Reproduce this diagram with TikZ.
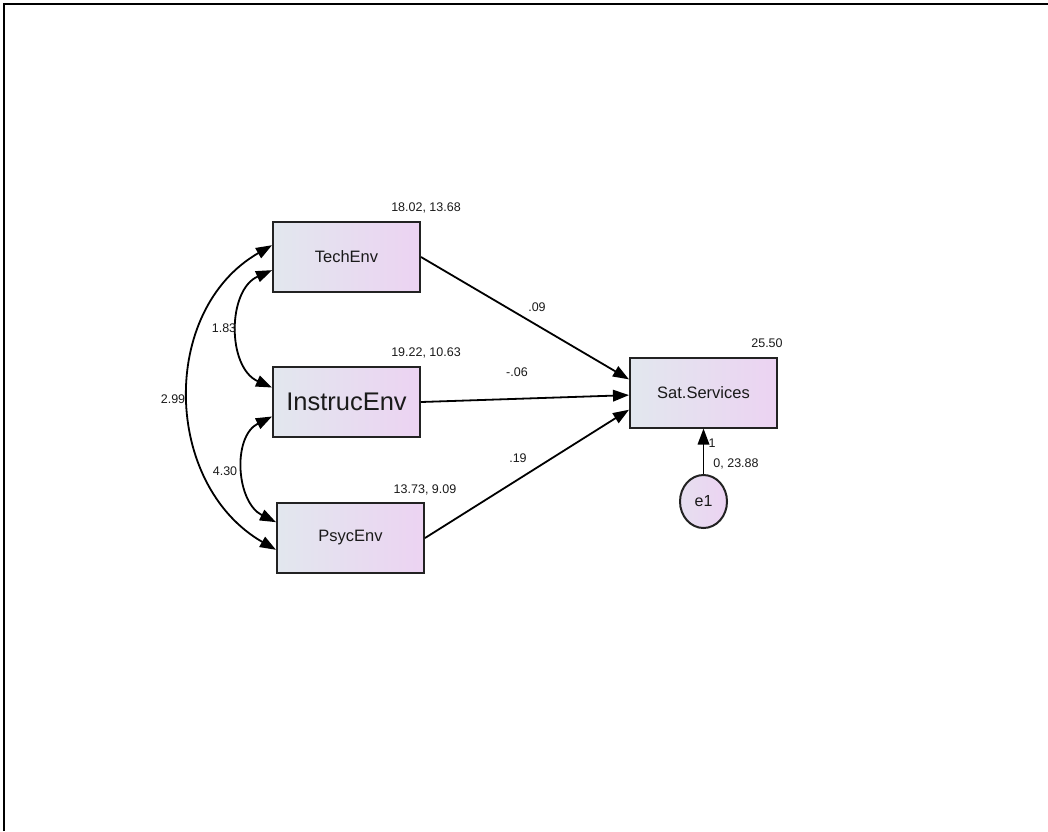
\documentclass[tikz,border=0pt]{standalone}
\usepackage{fontspec}
\setmainfont{Liberation Sans}
\usetikzlibrary{arrows.meta,shapes.geometric}
\definecolor{boxleft}{HTML}{E2E7EE}
\definecolor{boxright}{HTML}{ECD3F2}
\definecolor{boxline}{HTML}{222222}
\definecolor{textgray}{HTML}{1A1A1A}

\begin{document}
\begin{tikzpicture}[x=1pt,y=-1pt,>={Triangle[length=16pt,width=11.5pt]}]
  \tikzstyle{observed}=[rectangle,draw=boxline,line width=2pt,left color=boxleft,right color=boxright,minimum width=147pt,minimum height=70pt,text=textgray,font=\fontsize{16.5}{18}\selectfont]
  \tikzstyle{errorterm}=[ellipse,draw=boxline,line width=2pt,left color=boxleft!60!boxright,right color=boxright,minimum width=47pt,minimum height=53pt,inner sep=0pt,text=textgray,font=\fontsize{16}{18}\selectfont]
  \tikzstyle{estimate}=[inner sep=0pt,text=textgray,font=\fontsize{12.5}{14}\selectfont]
  \tikzstyle{regpath}=[->,line width=1.8pt]
  \tikzstyle{covpath}=[<->,line width=1.8pt]

  \useasboundingbox (0,0) rectangle (1048,831);
  % frame
  \draw[line width=2.2pt] (4,831) -- (4,4) -- (1048,4);

  \node [observed] (techenv) at (346.5,257) {TechEnv};
  \node [observed,font=\fontsize{25.5}{28}\selectfont] (instrucenv) at (346.5,402) {InstrucEnv};
  \node [observed] (psycenv) at (350.5,538) {PsycEnv};
  \node [observed] (satserv) at (703.5,392.5) {Sat.Services};
  \node [errorterm] (eone) at (703.5,501.5) {e1};

  % variances and intercepts
  \node [estimate] (vtech) at (426,208) {18.02, 13.68};
  \node [estimate] (vinstruc) at (426,353) {19.22, 10.63};
  \node [estimate] (vpsyc) at (425,490) {13.73, 9.09};
  \node [estimate] (vsat) at (767,343) {25.50};
  \node [estimate] (veone) at (736,464) {0, 23.88};

  % regression paths
  \draw [regpath] (techenv.east) -- (satserv.170);
  \draw [regpath] (instrucenv.east) -- (satserv.182);
  \draw [regpath] (psycenv.east) -- (satserv.193);
  \draw [regpath] (eone.north) -- (satserv.south);
  \node [estimate] (wtech) at (537,307) {.09};
  \node [estimate] (winstruc) at (517,372) {-.06};
  \node [estimate] (wpsyc) at (518,458) {.19};
  \node [estimate] (weone) at (712,443) {1};

  % covariances
  \draw [covpath] (techenv.190) .. controls +(-45,20) and +(-45,-20) .. (instrucenv.169);
  \draw [covpath] (instrucenv.191) .. controls +(-40,20) and +(-40,-20) .. (psycenv.168);
  \draw [covpath] (techenv.171) .. controls +(-113,65) and +(-113,-65) .. (psycenv.189);
  \node [estimate] (ctechinstruc) at (224,328) {1.83};
  \node [estimate] (cinstrucpsyc) at (225,471) {4.30};
  \node [estimate] (ctechpsyc) at (173,399) {2.99};
\end{tikzpicture}
\end{document}
